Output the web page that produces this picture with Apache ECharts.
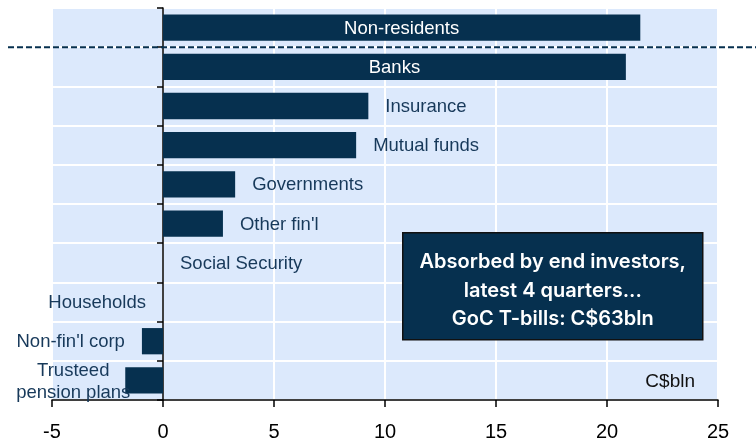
<!DOCTYPE html>
<html>
<head>
<meta charset="utf-8">
<script src="https://cdn.jsdelivr.net/npm/echarts@6/dist/echarts.min.js"></script>
<style>
html,body{margin:0;padding:0;background:#fff;}
#c{width:756px;height:442px;}
</style>
</head>
<body>
<div id="c"></div>
<script>
// ---- data ----
var categories = ["Non-residents", "Banks", "Insurance", "Mutual funds", "Governments",
  "Other fin'l", "Social Security", "Households", "Non-fin'l corp", "Trusteed\npension plans"];
var values = [21.5, 20.85, 9.25, 8.7, 3.25, 2.7, 0, 0, -0.95, -1.7];
var xTicks = [-5, 0, 5, 10, 15, 20, 25];
var unitLabel = "C$bln";
var noteLines = ["Absorbed by end investors,", "latest 4 quarters...", "GoC T-bills: C$63bln"];

// label placement rules (styling, not data)
var insideCats = ["Non-residents", "Banks"];
var leftCats = ["Households", "Non-fin'l corp", "Trusteed\npension plans"];

var NAVY = '#06304f';
var TXT = '#17395a';

var data = values.map(function (v, i) {
  var c = categories[i];
  var lbl;
  if (insideCats.indexOf(c) >= 0) {
    lbl = { show: true, position: 'inside', color: '#ffffff', offset: [0, 1] };
  } else if (c === "Trusteed\npension plans") {
    lbl = { show: true, position: 'left', align: 'center', distance: 52, lineHeight: 22, color: TXT, offset: [0, 2] };
  } else if (leftCats.indexOf(c) >= 0) {
    lbl = { show: true, position: 'left', distance: 17, color: TXT, offset: [0, 1] };
  } else {
    lbl = { show: true, position: 'right', distance: 17, color: TXT, offset: [0, 1] };
  }
  return { value: v, label: lbl };
});

var chart = echarts.init(document.getElementById('c'), null, { renderer: 'canvas' });
var option = {
  animation: false,
  grid: { left: 52, right: 38, top: 8, bottom: 37, show: true, backgroundColor: '#dce9fc', borderWidth: 0 },
  xAxis: {
    type: 'value', min: xTicks[0], max: xTicks[xTicks.length - 1], interval: 5,
    axisLine: { show: true, onZero: false, lineStyle: { color: '#000', width: 1.5 } },
    axisTick: { show: true, length: 7, lineStyle: { color: '#000', width: 1.5 } },
    axisLabel: { color: '#000', fontSize: 20, fontFamily: 'Liberation Sans, Arial, sans-serif', margin: 22 },
    splitLine: { show: true, lineStyle: { color: '#ffffff', width: 2 } }
  },
  yAxis: {
    type: 'category', data: categories, inverse: true,
    axisLine: { show: true, onZero: true, lineStyle: { color: '#000', width: 1.5 } },
    axisTick: { show: true, length: 6, lineStyle: { color: '#000', width: 1.5 } },
    axisLabel: { show: false },
    splitLine: { show: true, lineStyle: { color: '#ffffff', width: 2 } }
  },
  series: [{
    type: 'bar', data: data, barCategoryGap: '33%',
    itemStyle: { color: NAVY },
    label: { fontSize: 18.5, fontFamily: 'Liberation Sans, Arial, sans-serif', formatter: function (p) { return p.name; } },
    z: 3
  }]
};
chart.setOption(option);

// derived overlay positions from the axes
var b0 = chart.convertToPixel({ yAxisIndex: 0 }, 0);
var b1 = chart.convertToPixel({ yAxisIndex: 0 }, 1);
var dashY = (b0 + b1) / 2;
var gridRight = chart.convertToPixel({ xAxisIndex: 0 }, xTicks[xTicks.length - 1]);
var gridBottom = chart.convertToPixel({ yAxisIndex: 0 }, categories.length - 1) + (b1 - b0) / 2;

chart.setOption({
  graphic: [
    { type: 'line', z: 10, shape: { x1: 8, y1: dashY, x2: 756, y2: dashY },
      style: { stroke: NAVY, lineWidth: 2, lineDash: [6, 3] } },
    { type: 'text', z: 10, style: { text: unitLabel, x: gridRight - 23, y: gridBottom - 18, align: 'right', verticalAlign: 'middle',
      fontSize: 19, fontFamily: 'Liberation Sans, Arial, sans-serif', fill: '#111' } },
    { type: 'group', z: 20, left: 402, top: 232, children: [
      { type: 'rect', shape: { x: 0, y: 0, width: 300, height: 107 },
        style: { fill: NAVY, stroke: '#111', lineWidth: 1.5 } },
      { type: 'text', style: { text: noteLines.join('\n'), x: 150, y: 58, align: 'center', verticalAlign: 'middle',
        fontSize: 20, lineHeight: 28.5, fontWeight: 600, fontFamily: 'Inter, Noto Sans, sans-serif', fill: '#ffffff' } }
    ] }
  ]
});
</script>
</body>
</html>
